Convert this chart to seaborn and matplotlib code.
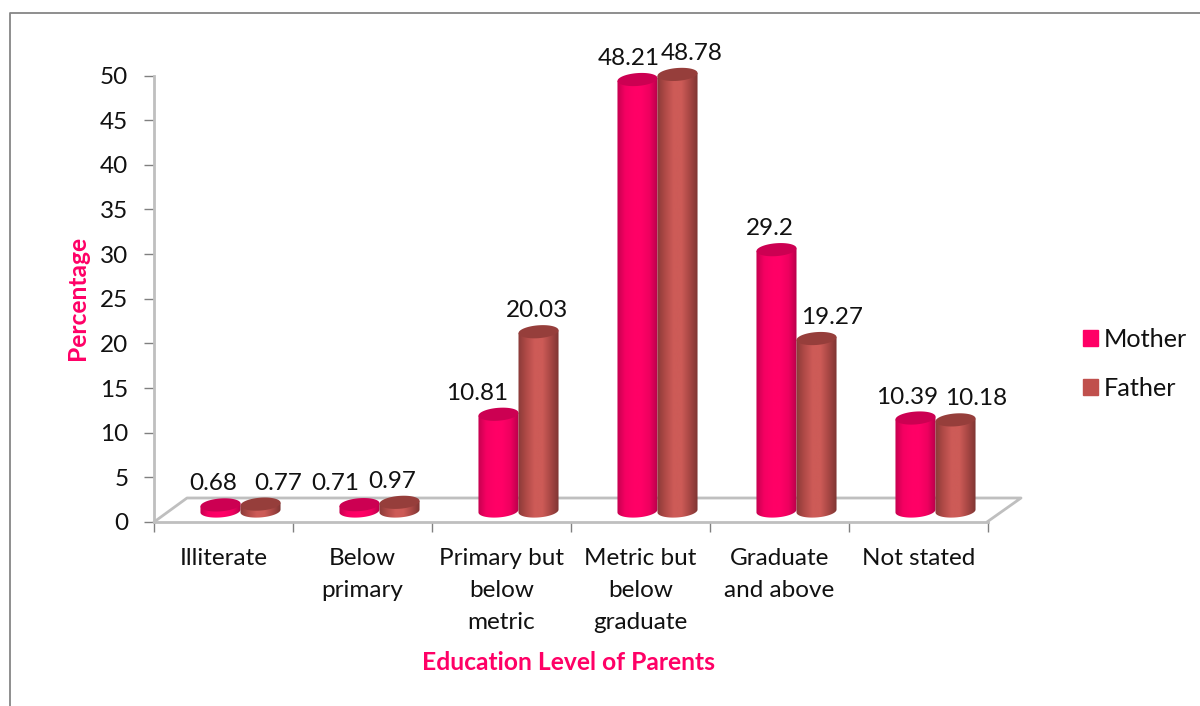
import numpy as np
import pandas as pd
import matplotlib
matplotlib.use('Agg')
import matplotlib.pyplot as plt
import seaborn as sns
from matplotlib.colors import LinearSegmentedColormap
from matplotlib.patches import Patch, Polygon

# Values
levels = ['Illiterate', 'Below\nprimary', 'Primary but\nbelow\nmetric',
          'Metric but\nbelow\ngraduate', 'Graduate\nand above', 'Not stated']
mother = [0.68, 0.71, 10.81, 48.21, 29.2, 10.39]
father = [0.77, 0.97, 20.03, 48.78, 19.27, 10.18]
mother_labels = ['0.68', '0.71', '10.81', '48.21', '29.2', '10.39']
father_labels = ['0.77', '0.97', '20.03', '48.78', '19.27', '10.18']
y_ticks = list(range(0, 55, 5))

# Label shifts from the bar centre, in pixels (the labels were moved by hand in the original)
mother_shift = [-7, -24, -21, -9, -7, -8]
father_shift = [18, -7, -2, 14, 16, 21]

W, H = 1200, 706
PINK = '#FF0066'
BRICK = '#C0504D'
FS = 17.5
INK = '#111111'

sns.set_style('white')
plt.rcParams['font.family'] = ['Lato', 'DejaVu Sans']
plt.rcParams['font.size'] = FS

df = pd.DataFrame({
    'level': levels * 2,
    'pct': mother + father,
    'parent': ['Mother'] * 6 + ['Father'] * 6,
})

fig = plt.figure(figsize=(W / 100, H / 100), dpi=100)

# Outer frame of the pasted chart
fig.add_artist(plt.Line2D([10 / W, 10 / W, 1], [0, 1 - 13 / H, 1 - 13 / H], color='#868686', lw=1.3))

# Main axes: y axis, category ticks and floor
ax = fig.add_axes([154 / W, 1 - 522 / H, 834 / W, 446.5 / H])
floor_x = np.array([154, 187, 1021, 987]) / W
floor_y = 1 - np.array([522, 498, 498, 522]) / H
ax.plot(floor_x, floor_y, color='#BFBFBF', lw=2, transform=fig.transFigure, clip_on=False)
ax.set_xlim(-0.5, 5.5)
ax.set_ylim(0, 50)
ax.set_yticks(y_ticks)
ax.set_xticks(np.arange(7) - 0.5, minor=False)
ax.set_xticklabels([])
ax.set_xticks(np.arange(6), labels=levels, minor=True)
ax.tick_params(axis='x', which='major', length=7, width=1, color='#808080', bottom=True)
ax.tick_params(axis='x', which='minor', length=0, pad=18.5, labelsize=FS, labelcolor=INK)
ax.tick_params(axis='y', length=7, width=1, color='#808080', left=True, pad=11.5, labelsize=FS, labelcolor=INK)
for lab in ax.get_xticklabels(minor=True):
    lab.set_linespacing(1.67)
sns.despine(ax=ax)
for side in ['left', 'bottom']:
    ax.spines[side].set_color('#BFBFBF')
    ax.spines[side].set_linewidth(2)
ax.set_xlabel('Education Level of Parents', color=PINK, fontweight='bold', fontsize=17.7)
ax.set_ylabel('Percentage', color=PINK, fontweight='bold', fontsize=17.7)
ax.xaxis.set_label_coords((569 - 154) / 834, (522 - 663) / 446.5)
ax.yaxis.set_label_coords((77 - 154) / 834, (522 - 298) / 446.5)
ax.xaxis.label.set_verticalalignment('center')
ax.yaxis.label.set_verticalalignment('center')

# Bars sit in the middle of the floor, so they get their own shifted axes
ax_bars = fig.add_axes([(154 + 17) / W, 1 - 511 / H, 834 / W, 447.5 / H], facecolor='none')
sns.barplot(data=df, x='level', y='pct', hue='parent', hue_order=['Mother', 'Father'],
            palette={'Mother': PINK, 'Father': BRICK}, width=0.576, gap=0, legend=False,
            errorbar=None, ax=ax_bars)
ax_bars.set_xlim(-0.5, 5.5)
ax_bars.set_ylim(0, 50)
ax_bars.axis('off')

cyl_styles = [
    (['#C4004F', '#F50062', PINK, PINK, '#EE005F', '#B8004A'], '#CC0052'),
    (['#8A3A38', '#B04A47', '#CD5B57', '#CD5B57', '#A84744', '#7E3533'], '#963E3B'),
]
grad = np.linspace(0, 1, 128).reshape(1, -1)
rise = 0.72  # half height of the cylinder ellipse, in y units
tilt = 0.16  # the ellipses lean up to the right a little

# Turn each flat bar into a cylinder
n = len(levels)
bars = list(ax_bars.patches[:2 * n])
for i, bar in enumerate(bars):
    colors, top_color = cyl_styles[i // n]
    x0, w, h = bar.get_x(), bar.get_width(), bar.get_height()
    bar.set_visible(False)
    z = 3 + i % n + (i // n) * 0.5
    cx = x0 + w / 2
    t = np.linspace(np.pi, 2 * np.pi, 40)
    outline = np.column_stack([
        np.r_[cx + w / 2 * np.cos(t), x0 + w, x0],
        np.r_[rise * np.sin(t) + tilt * np.cos(t), h + tilt, h - tilt],
    ])
    clip = Polygon(outline, closed=True, transform=ax_bars.transData, fc='none', ec='none')
    ax_bars.add_patch(clip)
    img = ax_bars.imshow(grad, extent=[x0, x0 + w, -2 * rise, h + 2 * rise], aspect='auto', zorder=z,
                         cmap=LinearSegmentedColormap.from_list('cyl', colors))
    img.set_clip_path(clip)
    img.set_clip_box(fig.bbox)
    t = np.linspace(0, 2 * np.pi, 80)
    top = np.column_stack([cx + w / 2 * np.cos(t), h + rise * np.sin(t) + tilt * np.cos(t)])
    ax_bars.add_patch(Polygon(top, closed=True, fc=top_color, ec='none', zorder=z + 0.1, clip_on=False))
ax_bars.set_xlim(-0.5, 5.5)
ax_bars.set_ylim(0, 50)

# Data labels
all_labels = mother_labels + father_labels
all_shift = mother_shift + father_shift
for bar, text, dx in zip(bars, all_labels, all_shift):
    ax_bars.annotate(text, (bar.get_x() + bar.get_width() / 2, bar.get_height()),
                     xytext=(dx * 0.72, 21 * 0.72), textcoords='offset points',
                     ha='center', va='center', fontsize=FS, color=INK,
                     annotation_clip=False, zorder=20)

# Legend
handles = [Patch(color=PINK, label='Mother'), Patch(color=BRICK, label='Father')]
leg = fig.legend(handles=handles, loc='center left', bbox_to_anchor=(1060 / W, 1 - 364 / H), frameon=False,
                 fontsize=18.2, handlelength=0.6, handleheight=0.6, handletextpad=0.25, labelspacing=1.05,
                 labelcolor=INK)

fig.savefig('out.png', dpi=100)
